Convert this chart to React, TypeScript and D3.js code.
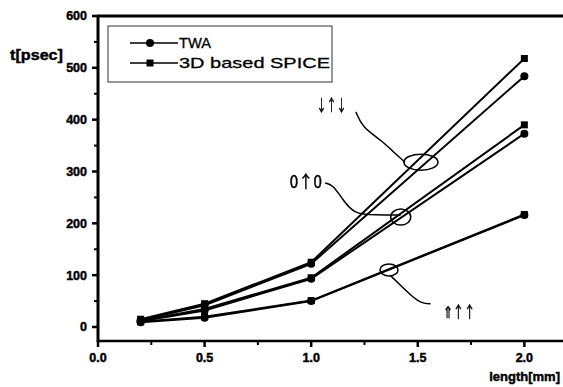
import React, { useEffect, useRef } from "react";
import * as d3 from "d3";

const lengths = [0.2, 0.5, 1.0, 2.0];
const twaDUD = [13, 42, 122, 484];
const twa0U0 = [11, 32, 93, 373];
const twaUUU = [9, 18, 50, 216];
const spiceDUD = [15, 45, 125, 518];
const spice0U0 = [12, 35, 95, 390];
const spiceUUU = [10, 20, 51, 217];
const yTicks = [0, 100, 200, 300, 400, 500, 600];
const xTicks = [0.0, 0.5, 1.0, 1.5, 2.0];
const legendLabels = ["TWA", "3D based SPICE"];

const W = 563;
const H = 387;

export default function App() {
  const ref = useRef<SVGSVGElement>(null);
  useEffect(() => {
    document.body.style.margin = "0";
    const svg = d3.select(ref.current);
    svg.selectAll("*").remove();
    const x = d3.scaleLinear().domain([0, 2.2]).range([98, 567]);
    const y = d3.scaleLinear().domain([-27, 600]).range([341, 16]);
    const font = "'Liberation Sans', Arial, sans-serif";
    const g = svg.append("g");

    // frame lines
    g.append("line").attr("x1", 98).attr("x2", 98).attr("y1", 15).attr("y2", 342).attr("stroke", "#000").attr("stroke-width", 3);
    g.append("line").attr("x1", 97).attr("x2", W).attr("y1", 341).attr("y2", 341).attr("stroke", "#000").attr("stroke-width", 2.5);
    g.append("line").attr("x1", 97).attr("x2", W).attr("y1", 16).attr("y2", 16).attr("stroke", "#000").attr("stroke-width", 3);

    const boldText = (sel: any, size: number) =>
      sel.attr("font-family", font).attr("font-weight", "bold").attr("font-size", size)
        .attr("fill", "#000").attr("stroke", "#000").attr("stroke-width", 0.45);

    // y ticks
    const yMinor = d3.range(50, 600, 100);
    yTicks.forEach((v) => {
      g.append("line").attr("x1", 92).attr("x2", 98).attr("y1", y(v)).attr("y2", y(v)).attr("stroke", "#000").attr("stroke-width", 2.5);
      boldText(g.append("text").attr("x", 87).attr("y", y(v)).attr("dy", "0.35em").attr("text-anchor", "end"), 12.5).text(String(v));
    });
    yMinor.forEach((v) => {
      g.append("line").attr("x1", 94).attr("x2", 98).attr("y1", y(v)).attr("y2", y(v)).attr("stroke", "#000").attr("stroke-width", 2);
    });
    // x ticks
    xTicks.forEach((v) => {
      g.append("line").attr("x1", x(v)).attr("x2", x(v)).attr("y1", 341).attr("y2", 347).attr("stroke", "#000").attr("stroke-width", 2.5);
      boldText(g.append("text").attr("x", x(v)).attr("y", 358).attr("dy", "0.35em").attr("text-anchor", "middle"), 12.5).text(v.toFixed(1));
    });
    d3.range(0.25, 2.2, 0.5).forEach((v) => {
      g.append("line").attr("x1", x(v)).attr("x2", x(v)).attr("y1", 341).attr("y2", 345).attr("stroke", "#000").attr("stroke-width", 2);
    });

    // axis titles
    boldText(g.append("text").attr("x", 10).attr("y", 60).attr("textLength", 53).attr("lengthAdjust", "spacingAndGlyphs"), 15).text("t[psec]");
    boldText(g.append("text").attr("x", 560).attr("y", 381).attr("text-anchor", "end"), 13).text("length[mm]");

    const line = d3.line<[number, number]>().x((d) => x(d[0])).y((d) => y(d[1]));
    const twa = [twaDUD, twa0U0, twaUUU];
    const spice = [spiceDUD, spice0U0, spiceUUU];
    const drawSeries = (vals: number[], marker: "circle" | "square") => {
      const pts = lengths.map((l, i) => [l, vals[i]] as [number, number]);
      g.append("path").attr("d", line(pts)).attr("fill", "none").attr("stroke", "#000").attr("stroke-width", 2);
      pts.forEach((p) => {
        if (marker === "circle") {
          g.append("circle").attr("cx", x(p[0])).attr("cy", y(p[1])).attr("r", 4).attr("fill", "#000");
        } else {
          g.append("rect").attr("x", x(p[0]) - 3.5).attr("y", y(p[1]) - 3.5).attr("width", 7).attr("height", 7).attr("fill", "#000");
        }
      });
    };
    twa.forEach((s) => drawSeries(s, "circle"));
    spice.forEach((s) => drawSeries(s, "square"));

    // legend
    g.append("rect").attr("x", 108).attr("y", 26).attr("width", 224).attr("height", 56).attr("fill", "#fff").attr("stroke", "#333").attr("stroke-width", 1);
    legendLabels.forEach((lab, i) => {
      const ly = 43 + i * 20;
      g.append("line").attr("x1", 130).attr("x2", 178).attr("y1", ly).attr("y2", ly).attr("stroke", "#000").attr("stroke-width", 1.5);
      if (i === 0) g.append("circle").attr("cx", 150).attr("cy", ly).attr("r", 4).attr("fill", "#000");
      else g.append("rect").attr("x", 146.5).attr("y", ly - 3.5).attr("width", 7).attr("height", 7).attr("fill", "#000");
      g.append("text").attr("x", 179).attr("y", ly).attr("dy", "0.36em").attr("font-family", font).attr("font-size", 15)
        .attr("fill", "#000").attr("stroke", "#000").attr("stroke-width", 0.3)
        .attr("textLength", i === 0 ? 32 : 151).attr("lengthAdjust", "spacingAndGlyphs").text(lab);
    });

    // annotations (positions in data units)
    const annFont = "'Noto Sans CJK JP', 'DejaVu Sans', sans-serif";
    const annG = g.append("g").style("opacity", 0.99).style("will-change", "transform");
    const ann = (t: string, xv: number, yv: number, len: number, size: number) =>
      annG.append("text").attr("x", x(xv)).attr("y", y(yv)).attr("dy", "0.35em").attr("font-family", annFont)
        .attr("font-size", size).attr("fill", "#000").attr("stroke", "#000").attr("stroke-width", 0.5)
        .attr("textLength", len).attr("lengthAdjust", "spacingAndGlyphs").text(t);
    ann("↓↑↓", 1.025, 428, 30, 16);
    ann("0↑0", 0.9, 280, 32, 17);
    ann("⇑↑↑", 1.62, 29, 32, 16);

    const curve = d3.line<[number, number]>().x((d) => x(d[0])).y((d) => y(d[1])).curve(d3.curveBasis);
    const annStroke = (pts: [number, number][]) =>
      g.append("path").attr("d", curve(pts)).attr("fill", "none").attr("stroke", "#000").attr("stroke-width", 1.5);
    annStroke([[1.21, 415], [1.24, 385], [1.33, 360], [1.38, 340], [1.44, 318]]);
    g.append("ellipse").attr("cx", x(1.515)).attr("cy", y(318)).attr("rx", 17).attr("ry", 8).attr("fill", "none").attr("stroke", "#000").attr("stroke-width", 1.5);
    annStroke([[1.065, 278], [1.1, 275], [1.15, 245], [1.2, 218], [1.3, 216], [1.42, 216]]);
    g.append("ellipse").attr("cx", x(1.42)).attr("cy", y(212)).attr("rx", 10).attr("ry", 8).attr("fill", "none").attr("stroke", "#000").attr("stroke-width", 1.5);
    g.append("ellipse").attr("cx", x(1.365)).attr("cy", y(110)).attr("rx", 9).attr("ry", 6).attr("fill", "none").attr("stroke", "#000").attr("stroke-width", 1.5);
    annStroke([[1.37, 100], [1.42, 80], [1.47, 60], [1.52, 45], [1.56, 45]]);
  }, []);
  return <svg ref={ref} width={W} height={H} style={{ display: "block", background: "#fff" }} />;
}
